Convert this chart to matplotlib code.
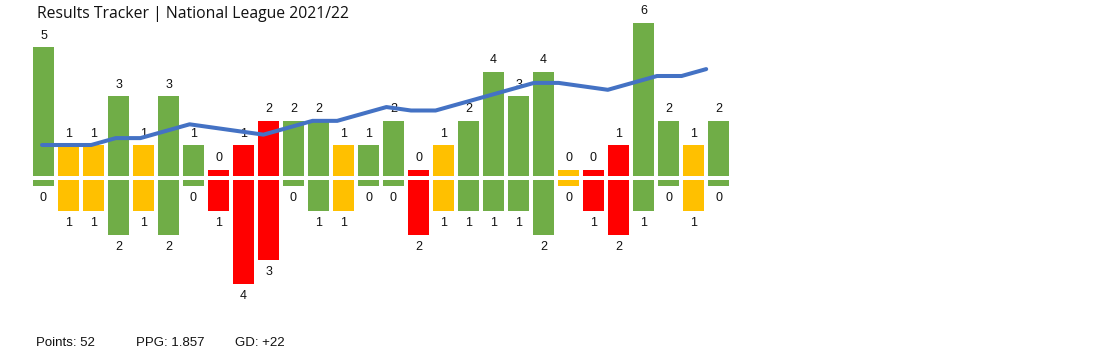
import matplotlib
matplotlib.use("Agg")
import matplotlib.pyplot as plt

# ---- data ----
goals_for = [5, 1, 1, 3, 1, 3, 1, 0, 1, 2, 2, 2, 1, 1, 2, 0, 1, 2, 4, 3, 4, 0, 0, 1, 6, 2, 1, 2]
goals_against = [0, 1, 1, 2, 1, 2, 0, 1, 4, 3, 0, 1, 1, 0, 0, 2, 1, 1, 1, 1, 2, 0, 1, 2, 1, 0, 1, 0]
results = ["W", "D", "D", "W", "D", "W", "W", "L", "L", "L", "W", "W", "D", "W",
           "W", "L", "D", "W", "W", "W", "W", "D", "L", "L", "W", "W", "D", "W"]
# cumulative points above one point per game (trend line)
trend = [2, 2, 2, 4, 4, 6, 8, 7, 6, 5, 7, 9, 9, 11, 13, 12, 12, 14, 16, 18, 20, 20, 19, 18, 20, 22, 22, 24]
title = "Results Tracker | National League 2021/22"
footer = [("Points: 52", 36), ("PPG: 1.857", 136), ("GD: +22", 235)]

colors = {"W": "#70AD47", "D": "#FFC000", "L": "#FF0000"}

W, H = 1105, 355
fig = plt.figure(figsize=(W / 100, H / 100), dpi=100)
ax = fig.add_axes([0, 0, 1, 1])

# pixel mapping
x0, pitch = 43.5, 25.0
base_px, unit_px = 175.7, 24.5
ax.set_xlim(-x0 / pitch, (W - x0) / pitch)
ax.set_ylim((base_px - H) / unit_px, base_px / unit_px)
ax.axis("off")

gap = 4.3 / unit_px
stub = 0.25
xs = list(range(len(goals_for)))
cols = [colors[r] for r in results]
up_h = [g + stub for g in goals_for]
dn_h = [-(g + stub) for g in goals_against]
ax.bar(xs, up_h, width=0.86, bottom=0, color=cols, zorder=2)
ax.bar(xs, dn_h, width=0.86, bottom=-gap, color=cols, zorder=2)

lab_font = dict(family="Liberation Sans", fontsize=9, color="#111111")
for x, h, g in zip(xs, up_h, goals_for):
    ax.text(x, h + 0.46, str(g), ha="center", va="center", zorder=3, **lab_font)
for x, h, g in zip(xs, dn_h, goals_against):
    ax.text(x, -gap + h - 0.5, str(g), ha="center", va="center", zorder=3, **lab_font)

ax2 = ax.twinx()
ax2.set_position([0, 0, 1, 1])
line_base, line_unit = 151.9, 3.45
ax2.set_ylim((line_base - H) / line_unit, line_base / line_unit)
ax2.axis("off")
# trend line sits on a slightly tighter horizontal step than the bars
line_x = [(42.0 + 24.6 * i - x0) / pitch for i in xs]
ax2.plot(line_x, trend, color="#4472C4", lw=2.9, solid_capstyle="round", zorder=5)

fig.text(37 / W, 1 - 14 / H, title, ha="left", va="center",
         family="Open Sans", fontsize=11.3, color="#111111")
for txt, px in footer:
    fig.text(px / W, 1 - 342.5 / H, txt, ha="left", va="center",
             family="Liberation Sans", fontsize=9.5, color="#111111")

fig.savefig("out.png", dpi=100, facecolor="white")
